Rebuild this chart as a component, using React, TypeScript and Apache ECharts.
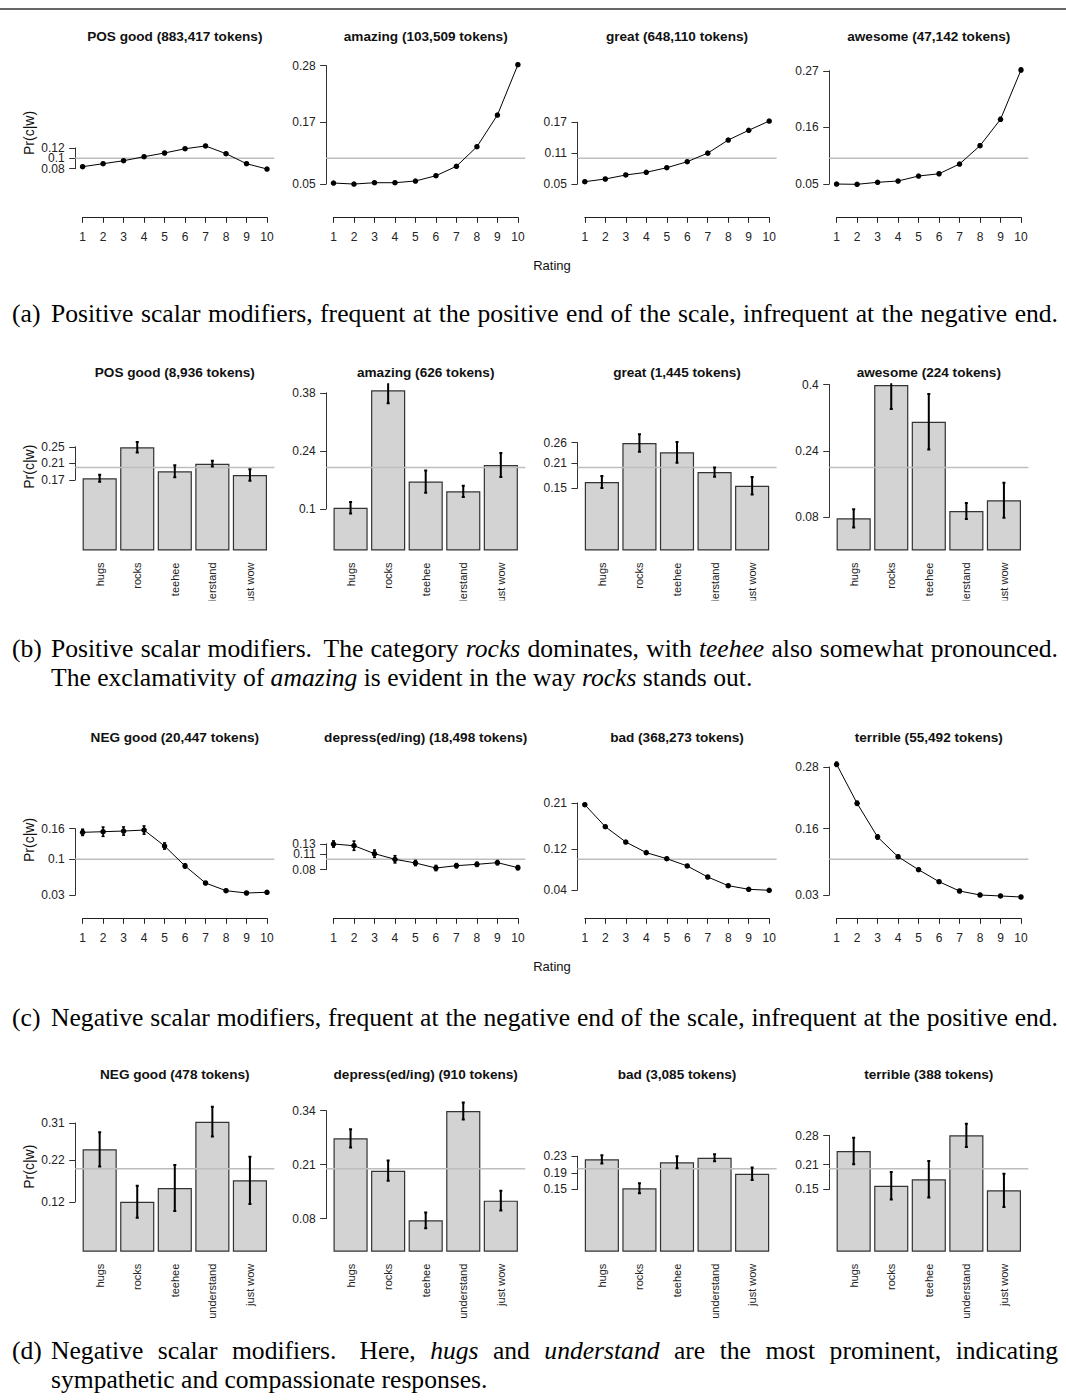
import React, { useEffect, useRef } from "react";
import * as echarts from "echarts";

// ---------------- DATA ----------------
const ratings = [1, 2, 3, 4, 5, 6, 7, 8, 9, 10];
const categories = ["hugs", "rocks", "teehee", "understand", "just wow"];
const uniformRating = 0.1;
const uniformCategory = 0.2;

// (a) positive modifiers by rating
const rowATitles = ["POS good (883,417 tokens)", "amazing (103,509 tokens)", "great (648,110 tokens)", "awesome (47,142 tokens)"];
const posGoodByRating = [0.0837, 0.0895, 0.0953, 0.1031, 0.1103, 0.1186, 0.1239, 0.109, 0.0895, 0.0792];
const amazingByRating = [0.052, 0.05, 0.0526, 0.0526, 0.0559, 0.0662, 0.0845, 0.1225, 0.184, 0.2818];
const greatByRating = [0.0546, 0.0598, 0.0676, 0.0728, 0.0817, 0.0934, 0.11, 0.1355, 0.1544, 0.1724];
const awesomeByRating = [0.05, 0.0495, 0.0534, 0.0559, 0.0656, 0.07, 0.0889, 0.1245, 0.1757, 0.2715];
const posGoodByRatingErr = [0.0008, 0.0007, 0.0007, 0.0007, 0.0006, 0.0006, 0.0006, 0.0007, 0.0008, 0.0009];
const amazingByRatingErr = [0.001, 0.001, 0.001, 0.001, 0.001, 0.001, 0.0012, 0.0015, 0.0018, 0.002];
const greatByRatingErr = [0.0007, 0.0007, 0.0007, 0.0007, 0.0007, 0.0007, 0.0008, 0.0009, 0.001, 0.001];
const awesomeByRatingErr = [0.0015, 0.0015, 0.0015, 0.0015, 0.002, 0.002, 0.0022, 0.003, 0.0035, 0.0035];
const rowATicks = [[0.08, 0.1, 0.12], [0.05, 0.17, 0.28], [0.05, 0.11, 0.17], [0.05, 0.16, 0.27]];

// (b) positive modifiers by category
const rowBTitles = ["POS good (8,936 tokens)", "amazing (626 tokens)", "great (1,445 tokens)", "awesome (224 tokens)"];
const posGoodByCat = [0.174, 0.2487, 0.1908, 0.2092, 0.182];
const amazingByCat = [0.103, 0.386, 0.166, 0.1426, 0.206];
const greatByCat = [0.165, 0.259, 0.2366, 0.189, 0.156];
const awesomeByCat = [0.0776, 0.3988, 0.3104, 0.0952, 0.121];
const posGoodByCatErr = [0.0085, 0.0125, 0.0145, 0.007, 0.0137];
const amazingByCatErr = [0.014, 0.031, 0.027, 0.0137, 0.029];
const greatByCatErr = [0.0145, 0.021, 0.025, 0.011, 0.021];
const awesomeByCatErr = [0.022, 0.058, 0.067, 0.019, 0.042];
const rowBTicks = [[0.17, 0.21, 0.25], [0.1, 0.24, 0.38], [0.15, 0.21, 0.26], [0.08, 0.24, 0.4]];

// (c) negative modifiers by rating
const rowCTitles = ["NEG good (20,447 tokens)", "depress(ed/ing) (18,498 tokens)", "bad (368,273 tokens)", "terrible (55,492 tokens)"];
const negGoodByRating = [0.1526, 0.1538, 0.1551, 0.157, 0.1259, 0.087, 0.0538, 0.0388, 0.0343, 0.0357];
const depressByRating = [0.1298, 0.1265, 0.111, 0.1, 0.0928, 0.083, 0.0876, 0.0902, 0.0935, 0.0837];
const badByRating = [0.2064, 0.1636, 0.1337, 0.113, 0.1012, 0.087, 0.0655, 0.0486, 0.0415, 0.0396];
const terribleByRating = [0.2852, 0.2092, 0.1435, 0.105, 0.0797, 0.0563, 0.0382, 0.0304, 0.0285, 0.0265];
const negGoodByRatingErr = [0.006, 0.009, 0.008, 0.008, 0.006, 0.004, 0.002, 0.002, 0.002, 0.002];
const depressByRatingErr = [0.006, 0.009, 0.007, 0.007, 0.005, 0.005, 0.004, 0.004, 0.004, 0.004];
const badByRatingErr = [0.0015, 0.0015, 0.0015, 0.0015, 0.0012, 0.0012, 0.0012, 0.0012, 0.0012, 0.0012];
const terribleByRatingErr = [0.004, 0.004, 0.004, 0.003, 0.002, 0.002, 0.0015, 0.0015, 0.0015, 0.0015];
const rowCTicks = [[0.03, 0.1, 0.16], [0.08, 0.11, 0.13], [0.04, 0.12, 0.21], [0.03, 0.16, 0.28]];

// (d) negative modifiers by category
const rowDTitles = ["NEG good (478 tokens)", "depress(ed/ing) (910 tokens)", "bad (3,085 tokens)", "terrible (388 tokens)"];
const negGoodByCat = [0.2467, 0.1205, 0.1535, 0.3133, 0.172];
const depressByCat = [0.2732, 0.1952, 0.0756, 0.339, 0.123];
const badByCat = [0.2226, 0.1527, 0.2154, 0.2265, 0.188];
const terribleByCat = [0.2427, 0.159, 0.1745, 0.2804, 0.148];
const negGoodByCatErr = [0.0414, 0.0386, 0.0554, 0.036, 0.057];
const depressByCatErr = [0.022, 0.0245, 0.019, 0.0205, 0.024];
const badByCatErr = [0.01, 0.012, 0.0145, 0.0085, 0.015];
const terribleByCatErr = [0.032, 0.033, 0.044, 0.028, 0.04];
const rowDTicks = [[0.12, 0.22, 0.31], [0.08, 0.21, 0.34], [0.15, 0.19, 0.23], [0.15, 0.21, 0.28]];

const yLabel = "Pr(c|w)";
const xLabel = "Rating";

type Word = [string, boolean];
const words = (s: string): Word[] => s.split(" ").map((t) => [t, false] as Word);
const capA: Word[] = words("Positive scalar modifiers, frequent at the positive end of the scale, infrequent at the negative end.");
const capB1: Word[] = [["Positive", false], ["scalar", false], ["modifiers.", false], ["The", false], ["category", false], ["rocks", true], ["dominates,", false], ["with", false], ["teehee", true], ["also", false], ["somewhat", false], ["pronounced.", false]];
const capB2: Word[] = [["The", false], ["exclamativity", false], ["of", false], ["amazing", true], ["is", false], ["evident", false], ["in", false], ["the", false], ["way", false], ["rocks", true], ["stands", false], ["out.", false]];
const capC: Word[] = words("Negative scalar modifiers, frequent at the negative end of the scale, infrequent at the positive end.");
const capD1: Word[] = [["Negative", false], ["scalar", false], ["modifiers.", false], ["Here,", false], ["hugs", true], ["and", false], ["understand", true], ["are", false], ["the", false], ["most", false], ["prominent,", false], ["indicating", false]];
const capD2: Word[] = words("sympathetic and compassionate responses.");

type Row = { kind: "line" | "bar"; titles: string[]; values: number[][]; errors: number[][]; ticks: number[][]; refValue: number };
const rows: Row[] = [
  { kind: "line", titles: rowATitles, values: [posGoodByRating, amazingByRating, greatByRating, awesomeByRating], errors: [posGoodByRatingErr, amazingByRatingErr, greatByRatingErr, awesomeByRatingErr], ticks: rowATicks, refValue: uniformRating },
  { kind: "bar", titles: rowBTitles, values: [posGoodByCat, amazingByCat, greatByCat, awesomeByCat], errors: [posGoodByCatErr, amazingByCatErr, greatByCatErr, awesomeByCatErr], ticks: rowBTicks, refValue: uniformCategory },
  { kind: "line", titles: rowCTitles, values: [negGoodByRating, depressByRating, badByRating, terribleByRating], errors: [negGoodByRatingErr, depressByRatingErr, badByRatingErr, terribleByRatingErr], ticks: rowCTicks, refValue: uniformRating },
  { kind: "bar", titles: rowDTitles, values: [negGoodByCat, depressByCat, badByCat, terribleByCat], errors: [negGoodByCatErr, depressByCatErr, badByCatErr, terribleByCatErr], ticks: rowDTicks, refValue: uniformCategory },
];

// ---------------- LAYOUT ----------------
const W = 1066;
const H = 1400;
const PX1 = [82.6, 333.5, 584.8, 836.6];
const PX2 = [267.0, 517.9, 769.2, 1021.0];
const ROW_LAYOUT = [
  { titleY: 36.7, base: 158.3, baseV: 0.1, k: 515, xAxisY: 217.3, ylabY: 133, ratingY: 265.7, clipTop: 0 },
  { titleY: 372.7, base: 550.5, baseV: 0, k: 415, xAxisY: 0, ylabY: 466.7, ratingY: 0, clipTop: 0.403 },
  { titleY: 737.3, base: 859.3, baseV: 0.1, k: 513, xAxisY: 918.3, ylabY: 840, ratingY: 966.7, clipTop: 0 },
  { titleY: 1074, base: 1251.7, baseV: 0, k: 415, xAxisY: 0, ylabY: 1166.7, ratingY: 0, clipTop: 0.4 },
];
const SANS = '"Liberation Sans", Arial, Helvetica, sans-serif';
const SERIF = '"Liberation Serif", "Times New Roman", serif';
const CAP_FS = 25.6;
const CAP_X0 = 51;
const CAP_LABEL_X = 12;
const CAP_RIGHT = 1058;

let measureCtx: CanvasRenderingContext2D | null = null;
function textWidth(t: string, italic: boolean): number {
  if (!measureCtx) measureCtx = document.createElement("canvas").getContext("2d");
  if (!measureCtx) return t.length * CAP_FS * 0.45;
  measureCtx.font = `${italic ? "italic " : ""}${CAP_FS}px "Liberation Serif"`;
  return measureCtx.measureText(t).width;
}

function captionText(text: string, x: number, y: number, italic: boolean) {
  return {
    type: "text",
    x,
    y,
    style: {
      text,
      fontSize: CAP_FS,
      fontFamily: SERIF,
      fontStyle: italic ? "italic" : "normal",
      fill: "#000",
      align: "left",
      verticalAlign: "middle",
    },
  };
}

function captionLine(ws: Word[], y: number, justify: boolean): any[] {
  const widths = ws.map(([t, it]) => textWidth(t, it));
  const space = textWidth(" ", false);
  const weights = ws.slice(0, -1).map(([t]) => (/\.$/.test(t) ? 1.6 : 1));
  let gap = space;
  if (justify) {
    const total = widths.reduce((a, b) => a + b, 0);
    const wsum = weights.reduce((a, b) => a + b, 0);
    gap = (CAP_RIGHT - CAP_X0 - total) / wsum;
  }
  const els: any[] = [];
  let x = CAP_X0;
  ws.forEach(([t, it], i) => {
    els.push(captionText(t, x, y, it));
    x += widths[i] + (i < ws.length - 1 ? gap * (justify ? weights[i] : 1) : 0);
  });
  return els;
}

const errRender = (capHalf: number, lw: number) => (params: any, api: any) => {
  const x = api.value(0);
  const v = api.value(1);
  const e = api.value(2);
  const top = api.coord([x, v + e]);
  const bot = api.coord([x, v - e]);
  const style = { stroke: "#000", lineWidth: lw };
  return {
    type: "group",
    children: [
      { type: "line", shape: { x1: top[0], y1: top[1], x2: bot[0], y2: bot[1] }, style },
      { type: "line", shape: { x1: top[0] - capHalf, y1: top[1], x2: top[0] + capHalf, y2: top[1] }, style },
      { type: "line", shape: { x1: bot[0] - capHalf, y1: bot[1], x2: bot[0] + capHalf, y2: bot[1] }, style },
    ],
  };
};

function buildOption() {
  const grid: any[] = [];
  const xAxis: any[] = [];
  const yAxis: any[] = [];
  const series: any[] = [];
  const graphic: any[] = [];

  graphic.push({ type: "line", shape: { x1: 0, y1: 9, x2: W, y2: 9 }, style: { stroke: "#333", lineWidth: 1.5 } });

  rows.forEach((row, r) => {
    const L = ROW_LAYOUT[r];
    const yPix = (v: number) => L.base - (v - L.baseV) * L.k;
    row.titles.forEach((title, p) => {
      const x1 = PX1[p];
      const x2 = PX2[p];
      const span = x2 - x1;
      const px0 = x1 - 0.04 * span;
      const px1 = x2 + 0.04 * span;
      const ticks = row.ticks[p];
      const tMin = ticks[0];
      const tMax = ticks[ticks.length - 1];

      // plot-region grid holding the R-style y axis and the uniform reference line
      const gA = grid.length;
      grid.push({ left: px0, top: yPix(tMax), width: px1 - px0, height: yPix(tMin) - yPix(tMax), containLabel: false, outerBoundsMode: "none" });
      const xMinA = row.kind === "line" ? 1 - 0.04 * 9 : 0;
      const xMaxA = row.kind === "line" ? 10 + 0.04 * 9 : 1;
      const xa = xAxis.length;
      xAxis.push({ type: "value", gridIndex: gA, min: xMinA, max: xMaxA, show: false, splitLine: { show: false } });
      const ya = yAxis.length;
      yAxis.push({
        type: "value",
        gridIndex: gA,
        min: tMin,
        max: tMax,
        position: "left",
        offset: 0,
        axisLine: { show: true, lineStyle: { color: "#333", width: 1 } },
        axisTick: { show: true, inside: false, length: 6, customValues: ticks, lineStyle: { color: "#333", width: 1 } },
        axisLabel: { show: false },
        splitLine: { show: false },
      });
      // one label-only axis per tick, so that tightly packed labels are never dropped
      ticks.forEach((t) => {
        yAxis.push({
          type: "value",
          gridIndex: gA,
          min: tMin,
          max: tMax,
          position: "left",
          offset: 0,
          axisLine: { show: false },
          axisTick: { show: false },
          axisLabel: {
            show: true,
            customValues: [t],
            showMinLabel: true,
            showMaxLabel: true,
            fontSize: 12,
            fontFamily: SANS,
            color: "#222",
            margin: 10.5,
          },
          splitLine: { show: false },
        });
      });
      series.push({
        type: "line",
        xAxisIndex: xa,
        yAxisIndex: ya,
        data: [[xMinA, row.refValue], [xMaxA, row.refValue]],
        symbol: "none",
        lineStyle: { color: "#bebebe", width: 1.5 },
        silent: true,
        clip: false,
        z: row.kind === "bar" ? 5 : 1,
      });

      graphic.push({
        type: "text",
        x: (px0 + px1) / 2,
        y: L.titleY,
        style: { text: title, fontSize: 13.6, fontWeight: "bold", fontFamily: SANS, fill: "#111", align: "center", verticalAlign: "middle" },
      });

      if (row.kind === "line") {
        series.push({
          type: "line",
          xAxisIndex: xa,
          yAxisIndex: ya,
          data: ratings.map((x, i) => [x, row.values[p][i]]),
          symbol: "circle",
          symbolSize: 5.5,
          itemStyle: { color: "#000" },
          lineStyle: { color: "#000", width: 1 },
          clip: false,
          silent: true,
          z: 4,
        });
        series.push({
          type: "custom",
          xAxisIndex: xa,
          yAxisIndex: ya,
          data: ratings.map((x, i) => [x, row.values[p][i], row.errors[p][i]]),
          encode: { x: 0, y: 1 },
          renderItem: errRender(1.5, 1.6),
          clip: false,
          silent: true,
          z: 5,
        });
        // x axis strip (from rating 1 to 10 only)
        const gB = grid.length;
        grid.push({ left: x1, top: L.xAxisY - 10, width: span, height: 10, containLabel: false, outerBoundsMode: "none" });
        xAxis.push({
          type: "value",
          gridIndex: gB,
          min: 1,
          max: 10,
          interval: 1,
          position: "bottom",
          axisLine: { show: true, lineStyle: { color: "#222", width: 1 } },
          axisTick: { show: true, inside: false, length: 5.5, lineStyle: { color: "#222", width: 1 } },
          axisLabel: { fontSize: 12, fontFamily: SANS, color: "#222", margin: 13.3, showMinLabel: true, showMaxLabel: true },
          splitLine: { show: false },
        });
        yAxis.push({ type: "value", gridIndex: gB, min: 0, max: 1, show: false, splitLine: { show: false } });
      } else {
        const w = span / 5.4;
        const gC = grid.length;
        grid.push({ left: x1 - 0.05 * w, top: yPix(L.clipTop), width: span + 0.1 * w, height: yPix(0) - yPix(L.clipTop), containLabel: false, outerBoundsMode: "none" });
        const xc = xAxis.length;
        xAxis.push({
          type: "category",
          gridIndex: gC,
          data: categories,
          axisLine: { show: false },
          axisTick: { show: false },
          axisLabel: { rotate: 90, interval: 0, fontSize: 11, fontFamily: SANS, color: "#222", margin: 12 },
          splitLine: { show: false },
        });
        const yc = yAxis.length;
        yAxis.push({ type: "value", gridIndex: gC, min: 0, max: L.clipTop, show: false, splitLine: { show: false } });
        series.push({
          type: "bar",
          xAxisIndex: xc,
          yAxisIndex: yc,
          data: row.values[p],
          barWidth: w,
          itemStyle: { color: "#d3d3d3", borderColor: "#333", borderWidth: 1.2 },
          silent: true,
          z: 2,
        });
        series.push({
          type: "custom",
          xAxisIndex: xc,
          yAxisIndex: yc,
          data: categories.map((c, i) => [i, row.values[p][i], row.errors[p][i]]),
          encode: { x: 0, y: 1 },
          renderItem: errRender(1.5, 2),
          clip: true,
          silent: true,
          z: 6,
        });
      }
    });

    graphic.push({
      type: "text",
      x: 29,
      y: L.ylabY,
      rotation: Math.PI / 2,
      style: { text: yLabel, fontSize: 14, fontFamily: SANS, fill: "#111", align: "center", verticalAlign: "middle" },
    });
    if (row.kind === "line") {
      graphic.push({
        type: "text",
        x: 552,
        y: L.ratingY,
        style: { text: xLabel, fontSize: 13, fontFamily: SANS, fill: "#111", align: "center", verticalAlign: "middle" },
      });
    }
  });

  // mask reproducing the cropped category labels of row (b)
  graphic.push({ type: "rect", z: 100, shape: { x: 0, y: 600.5, width: W, height: 32 }, style: { fill: "#fff" } });

  // captions
  graphic.push(captionText("(a)", CAP_LABEL_X, 313, false));
  graphic.push(...captionLine(capA, 313, true));
  graphic.push(captionText("(b)", CAP_LABEL_X, 648.5, false));
  graphic.push(...captionLine(capB1, 648.5, true));
  graphic.push(...captionLine(capB2, 677.2, false));
  graphic.push(captionText("(c)", CAP_LABEL_X, 1017, false));
  graphic.push(...captionLine(capC, 1017, true));
  graphic.push(captionText("(d)", CAP_LABEL_X, 1350.5, false));
  graphic.push(...captionLine(capD1, 1350.5, true));
  graphic.push(...captionLine(capD2, 1379.2, false));

  return {
    animation: false,
    backgroundColor: "#fff",
    grid,
    xAxis,
    yAxis,
    series,
    graphic: { elements: graphic },
  };
}

export default function App() {
  const ref = useRef<HTMLDivElement>(null);
  useEffect(() => {
    if (!ref.current) return;
    const chart = echarts.init(ref.current, undefined, { renderer: "svg", width: W, height: H });
    chart.setOption(buildOption() as any);
    return () => {
      chart.dispose();
    };
  }, []);
  return <div ref={ref} style={{ position: "absolute", left: 0, top: 0, width: W, height: H, background: "#fff" }} />;
}
